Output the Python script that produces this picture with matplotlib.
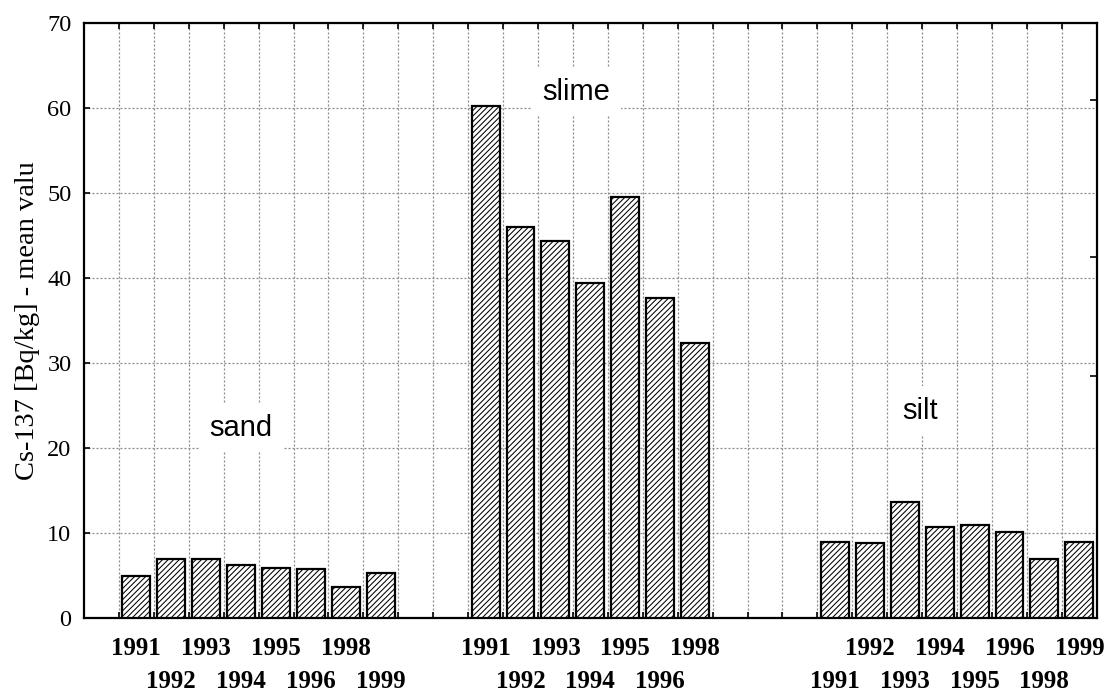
import matplotlib
matplotlib.use('Agg')
import matplotlib.pyplot as plt

# Cs-137 mean values per sediment type and year
sand_years = ['1991', '1992', '1993', '1994', '1995', '1996', '1998', '1999']
sand_vals = [5.0, 7.0, 6.9, 6.2, 5.9, 5.8, 3.6, 5.3]

slime_years = ['1991', '1992', '1993', '1994', '1995', '1996', '1998']
slime_vals = [60.2, 46.0, 44.3, 39.4, 49.5, 37.7, 32.3]

silt_years = ['1991', '1992', '1993', '1994', '1995', '1996', '1998', '1999']
silt_vals = [8.9, 8.8, 13.6, 10.7, 10.9, 10.1, 6.9, 8.9]

groups = ['sand', 'slime', 'silt']
group_start = [1, 11, 21]      # first category slot of each group
first_row_low = [False, False, True]
group_label_pos = [(4.5, 22.4), (14.1, 61.9), (23.95, 24.4)]
n_slots = 29

years = [sand_years, slime_years, silt_years]
values = [sand_vals, slime_vals, silt_vals]

serif = 'Liberation Serif'
sans = 'Liberation Sans'

plt.rcParams['hatch.linewidth'] = 0.75
plt.rcParams['hatch.color'] = '#3a3a3a'

fig = plt.figure(figsize=(11.09, 6.94), dpi=100)
ax = fig.add_axes([0.0757, 0.1095, 0.9133, 0.8574])

for g in range(len(groups)):
    xs = [group_start[g] + i + 0.5 for i in range(len(values[g]))]
    ax.bar(xs, values[g], width=0.8, color='white', edgecolor='black',
           linewidth=1.6, hatch='//////', zorder=3)
    # two-row year labels under the bars
    for i, (x, yr) in enumerate(zip(xs, years[g])):
        low = (i % 2 == 1) != first_row_low[g]
        ax.annotate(yr, xy=(x, 0), xycoords=('data', 'axes fraction'),
                    xytext=(0, -70 if low else -37), textcoords='offset pixels',
                    ha='center', va='baseline', fontsize=18, fontweight='bold',
                    family=serif, annotation_clip=False)
    lx, ly = group_label_pos[g]
    ax.text(lx, ly, groups[g], ha='center', va='center', fontsize=21,
            family=sans, zorder=4,
            bbox=dict(boxstyle='square,pad=0.35', facecolor='white',
                      edgecolor='none'))

ax.set_xlim(0, n_slots)
ax.set_ylim(0, 70)
ax.set_yticks(range(0, 71, 10))
ax.set_xticks(range(1, n_slots))
ax.set_xticklabels([])
ax.set_axisbelow(True)
ax.grid(True, color='#8a8a8a', linestyle=(0, (1.6, 1.6)), linewidth=0.9, zorder=0)

for lbl in ax.get_yticklabels():
    lbl.set_family(serif)
    lbl.set_fontsize(17.5)
ax.tick_params(axis='y', direction='in', length=4, width=1.2, pad=9)
ax.tick_params(axis='x', direction='in', length=4, width=1.2, top=True)

for sp in ax.spines.values():
    sp.set_linewidth(1.6)

ax.set_ylabel('Cs-137 [Bq/kg] - mean valu', fontsize=20.5, family=serif)
ax.yaxis.set_label_coords(-0.0434, 0.5)

# right-hand axis ticks
ax2 = ax.twinx()
ax2.set_ylim(0, 70)
ax2.set_yticks([28.5, 42.5, 60.9])
ax2.set_yticklabels([])
ax2.tick_params(axis='y', direction='in', length=5, width=1.2)
for sp in ax2.spines.values():
    sp.set_visible(False)

fig.savefig('out.png', dpi=100)
